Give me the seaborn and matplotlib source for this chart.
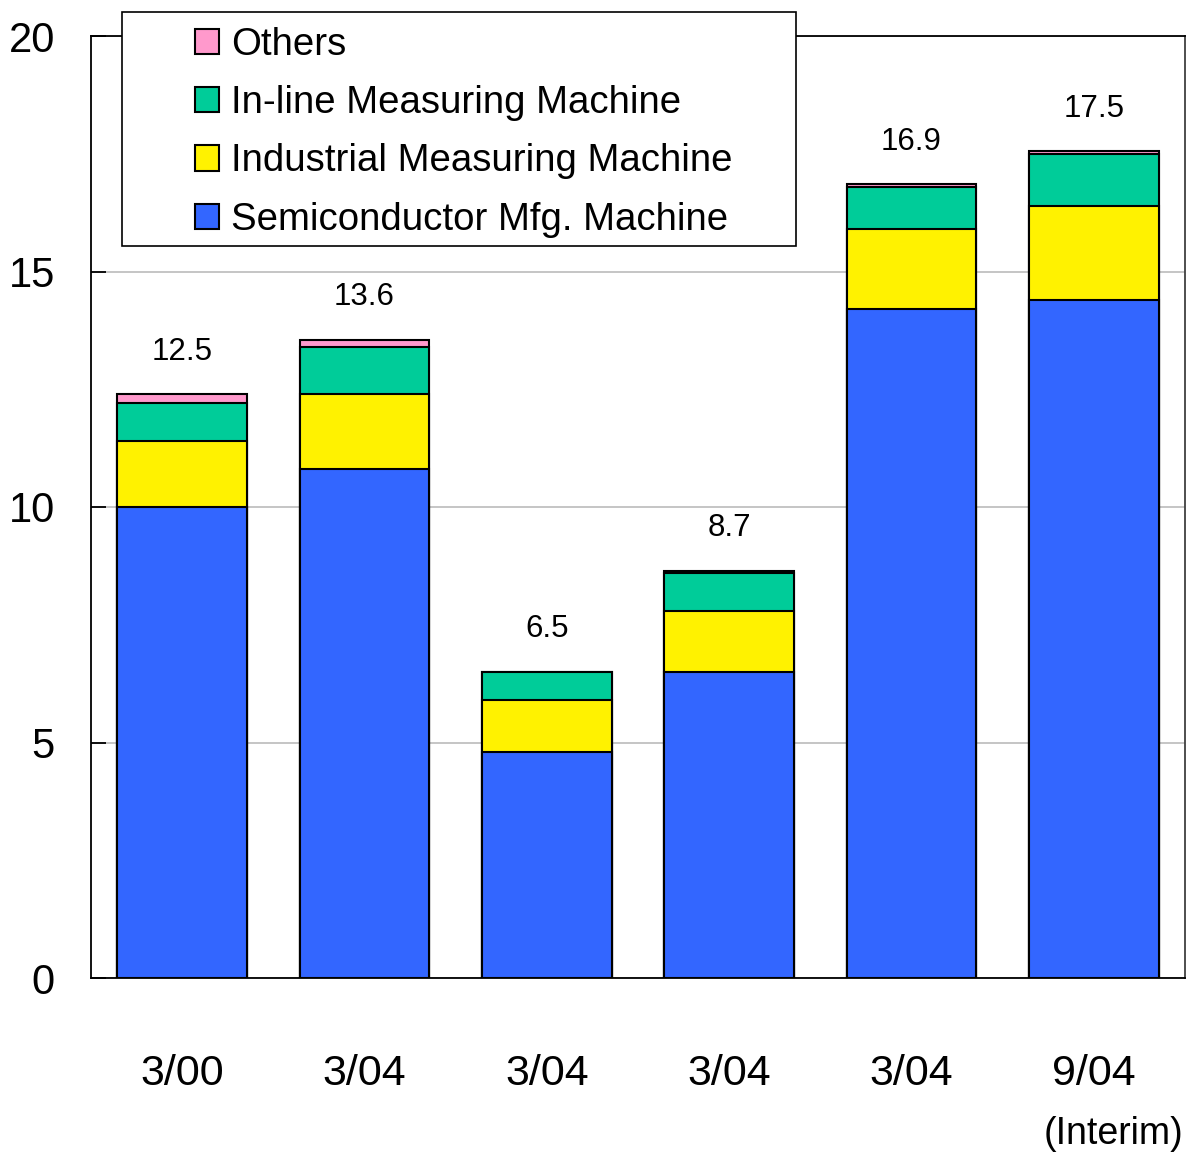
import numpy as np
import pandas as pd
import matplotlib
matplotlib.use("Agg")
import matplotlib.pyplot as plt
from matplotlib.patches import Rectangle
import seaborn as sns

# Values (billions of yen, stacked)
periods = ["3/00", "3/04", "3/04", "3/04", "3/04", "9/04"]
semiconductor = [10.0, 10.8, 4.8, 6.5, 14.2, 14.4]
industrial = [1.4, 1.6, 1.1, 1.3, 1.7, 2.0]
inline = [0.8, 1.0, 0.6, 0.8, 0.9, 1.1]
others = [0.2, 0.15, 0.0, 0.05, 0.05, 0.05]
totals = ["12.5", "13.6", "6.5", "8.7", "16.9", "17.5"]

series_names = ["Others", "In-line Measuring Machine",
                "Industrial Measuring Machine", "Semiconductor Mfg. Machine"]
colors = ["#FF99CC", "#00CC99", "#FFF200", "#3366FF"]

df = pd.DataFrame({
    "pos": range(len(periods)),
    "semi": semiconductor,
    "industrial": industrial,
    "inline": inline,
    "others": others,
})
# cumulative tops for each layer
df["c_semi"] = df["semi"]
df["c_ind"] = df["c_semi"] + df["industrial"]
df["c_inl"] = df["c_ind"] + df["inline"]
df["c_oth"] = df["c_inl"] + df["others"]

sns.set_style("white")
plt.rcParams["font.family"] = ["Liberation Sans", "DejaVu Sans"]
plt.rcParams["text.color"] = "black"
plt.rcParams["xtick.color"] = "black"
plt.rcParams["ytick.color"] = "black"

fig = plt.figure(figsize=(11.88, 11.52), dpi=100)
ax = fig.add_axes([91 / 1188, 1 - 978 / 1152, 1094 / 1188, 942 / 1152])

# draw tallest layer first, smaller layers on top
for col, name, color in zip(["c_oth", "c_inl", "c_ind", "c_semi"], series_names, colors):
    sns.barplot(data=df, x="pos", y=col, color=color, width=0.71,
                edgecolor="black", linewidth=1.5, label=name, ax=ax,
                saturation=1, legend=False)

# value labels above each bar
for i, txt in enumerate(totals):
    ax.text(i, df["c_oth"][i] + 0.9, txt, ha="center", va="center",
            fontsize=22.5, color="black")

ax.set_xlim(-0.5, 5.5)
ax.set_ylim(0, 20)
ax.set_yticks([0, 5, 10, 15, 20])
ax.set_xticks(range(len(periods)))
ax.set_xticklabels(periods)
ax.set_xticks(np.arange(0.5, 5.5, 1), minor=True)
ax.set_xlabel("")
ax.set_ylabel("")

ax.yaxis.grid(True, color="#C0C0C0", linewidth=1.3)
ax.set_axisbelow(True)

ax.tick_params(axis="x", which="major", length=0, pad=55, labelsize=31,
               labelcolor="black")
ax.tick_params(axis="x", which="minor", direction="in", length=11, width=1.3, color="black")
ax.tick_params(axis="y", direction="in", length=11, width=1.3, color="black",
               pad=26, labelsize=30, left=True, labelcolor="black")

for s in ["left", "bottom", "top"]:
    ax.spines[s].set_color("black")
    ax.spines[s].set_linewidth(1.3)
ax.spines["right"].set_color("#404040")
ax.spines["right"].set_linewidth(1.3)

ax.annotate("(Interim)", xy=(5, 0), xycoords=("data", "axes fraction"),
            xytext=(14, -112), textcoords="offset points",
            ha="center", va="center", fontsize=27, color="black")

# legend box
box = Rectangle((122 / 1188, 1 - 246 / 1152), 674 / 1188, 234 / 1152,
                transform=fig.transFigure, facecolor="white", edgecolor="black",
                linewidth=1.2, zorder=4)
fig.patches.append(box)

handles, labels = ax.get_legend_handles_labels()
leg = fig.legend(handles, labels, loc="upper left",
                 bbox_to_anchor=(195 / 1188, 1 - 27 / 1152),
                 frameon=False, fontsize=27.6, handlelength=0.63, handleheight=0.63,
                 handletextpad=0.31, labelspacing=0.58, borderpad=0,
                 borderaxespad=0, labelcolor="black")
leg.set_zorder(5)

fig.savefig("out.png", dpi=100)
